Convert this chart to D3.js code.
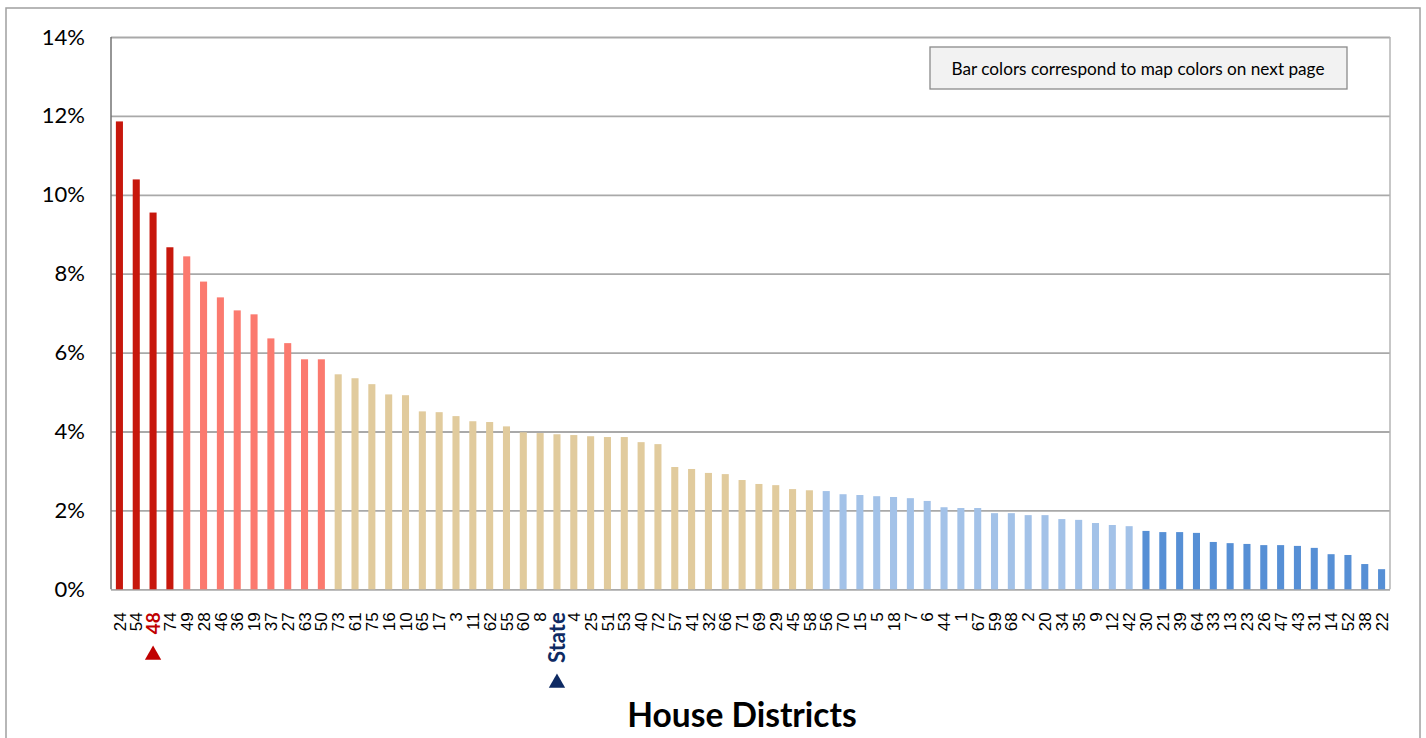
<!DOCTYPE html>
<html>
<head>
<meta charset="utf-8">
<script src="https://cdn.jsdelivr.net/npm/d3@7"></script>
<style>
  body { margin: 0; background: #fff; }
  svg { display: block; }
</style>
</head>
<body>
<svg id="chart" width="1426" height="738"></svg>
<script>
// districts in chart order, value is percent
var districts = ["24","54","48","74","49","28","46","36","19","37","27","63","50",
    "73","61","75","16","10","65","17","3","11","62","55","60","8","State",
    "4","25","51","53","40","72","57","41","32","66","71","69","29","45","58",
    "56","70","15","5","18","7","6","44","1","67","59","68","2","20","34","35","9","12","42",
    "30","21","39","64","33","13","23","26","47","43","31","14","52","38","22"];

var values = [11.86,10.39,9.55,8.67,8.44,7.80,7.40,7.07,6.97,6.36,6.24,5.83,5.83,
    5.45,5.35,5.20,4.94,4.92,4.51,4.49,4.39,4.26,4.24,4.13,3.98,3.96,3.93,
    3.91,3.88,3.86,3.86,3.73,3.68,3.10,3.05,2.95,2.92,2.77,2.67,2.64,2.54,2.51,
    2.49,2.41,2.39,2.36,2.34,2.31,2.24,2.08,2.06,2.06,1.93,1.93,1.88,1.88,1.78,1.76,1.68,1.63,1.60,
    1.48,1.45,1.45,1.43,1.20,1.17,1.15,1.12,1.12,1.10,1.05,0.89,0.87,0.64,0.51];

var yTicks = [0, 2, 4, 6, 8, 10, 12, 14];

// map color breaks (percent)
var colorBreaks = [1.55, 2.5, 5.6, 8.55];
var colorSteps = ["#568fd5", "#a3c2e8", "#e1cb9d", "#fb7a6f", "#c7170c"];

var svg = d3.select("#chart");
var plotLeft = 111, plotTop = 37, plotRight = 1390, plotBottom = 589.3;
var plotW = plotRight - plotLeft;

var x = d3.scaleBand().domain(districts).range([plotLeft, plotRight]).paddingInner(0.58).paddingOuter(0.29);
var y = d3.scaleLinear().domain([0, 14]).range([plotBottom, plotTop]);
var color = d3.scaleThreshold().domain(colorBreaks).range(colorSteps);

// outer frame
svg.append("rect")
    .attr("x", 6).attr("y", 8)
    .attr("width", 1414).attr("height", 760)
    .attr("fill", "none")
    .attr("stroke", "#a0a0a0")
    .attr("stroke-width", 1.5);

// gridlines
var grid = svg.append("g")
    .attr("transform", "translate(" + plotLeft + ",0)")
    .call(d3.axisRight(y).tickValues(yTicks).tickSize(plotW).tickFormat(""));
grid.select(".domain").remove();
grid.selectAll("line")
    .attr("stroke", "#a9a9a9")
    .attr("stroke-width", 1.8);

// right border of plot area
svg.append("line")
    .attr("x1", plotRight).attr("x2", plotRight)
    .attr("y1", plotTop).attr("y2", plotBottom)
    .attr("stroke", "#b5b5b5")
    .attr("stroke-width", 1.5);

// y labels
var yAxis = svg.append("g")
    .attr("transform", "translate(" + plotLeft + ",0)")
    .call(d3.axisLeft(y).tickValues(yTicks).tickSize(0).tickPadding(26).tickFormat(function(d) { return d + "%"; }));
yAxis.select(".domain").remove();
yAxis.selectAll("text")
    .style("font-family", "Lato, 'Open Sans', sans-serif")
    .style("font-size", "22px")
    .attr("fill", "#000");

// bars
svg.append("g").selectAll("rect")
    .data(districts)
    .enter().append("rect")
    .attr("x", function(d) { return x(d); })
    .attr("y", function(d, i) { return y(values[i]); })
    .attr("width", x.bandwidth())
    .attr("height", function(d, i) { return plotBottom - y(values[i]); })
    .attr("fill", function(d, i) { return color(values[i]); });

// left axis line
svg.append("line")
    .attr("x1", plotLeft).attr("x2", plotLeft)
    .attr("y1", plotTop).attr("y2", plotBottom)
    .attr("stroke", "#737373")
    .attr("stroke-width", 1.5);

// x labels
var xAxis = svg.append("g")
    .attr("transform", "translate(0," + plotBottom + ")")
    .call(d3.axisBottom(x).tickSize(0));
xAxis.select(".domain").remove();
xAxis.selectAll("text")
    .attr("transform", "rotate(-90)")
    .attr("x", -23)
    .attr("y", 0)
    .attr("dy", "0.36em")
    .style("text-anchor", "end")
    .style("font-family", "'Liberation Sans', Arial, sans-serif")
    .style("font-size", "17px")
    .attr("fill", "#000");

xAxis.selectAll("text")
    .filter(function(d) { return d == "48"; })
    .style("font-family", "Lato, 'Open Sans', sans-serif")
    .style("font-weight", "bold")
    .style("font-size", "19px")
    .attr("fill", "#c00000");

xAxis.selectAll("text")
    .filter(function(d) { return d == "State"; })
    .style("font-family", "Lato, 'Open Sans', sans-serif")
    .style("font-weight", "bold")
    .style("font-size", "22px")
    .attr("fill", "#0e2a63");

// markers under the highlighted labels
svg.append("path")
    .attr("d", d3.symbol(d3.symbolTriangle, 115))
    .attr("transform", "translate(" + (x("48") + x.bandwidth() / 2) + ",655)")
    .attr("fill", "#c00000");

svg.append("path")
    .attr("d", d3.symbol(d3.symbolTriangle, 115))
    .attr("transform", "translate(" + (x("State") + x.bandwidth() / 2) + ",683)")
    .attr("fill", "#0e2a63");

// note box
svg.append("rect")
    .attr("x", 930).attr("y", 47)
    .attr("width", 417).attr("height", 42)
    .attr("fill", "#f2f2f2")
    .attr("stroke", "#8a8a8a")
    .attr("stroke-width", 1.3);

svg.append("text")
    .attr("x", 1138).attr("y", 69)
    .attr("dy", "0.35em")
    .attr("text-anchor", "middle")
    .style("font-family", "Lato, 'Open Sans', sans-serif")
    .style("font-size", "17.2px")
    .text("Bar colors correspond to map colors on next page");

// axis title
svg.append("text")
    .attr("x", 742).attr("y", 715)
    .attr("dy", "0.35em")
    .attr("text-anchor", "middle")
    .style("font-family", "Lato, 'Open Sans', sans-serif")
    .style("font-weight", "bold")
    .style("font-size", "33.5px")
    .text("House Districts");
</script>
</body>
</html>
